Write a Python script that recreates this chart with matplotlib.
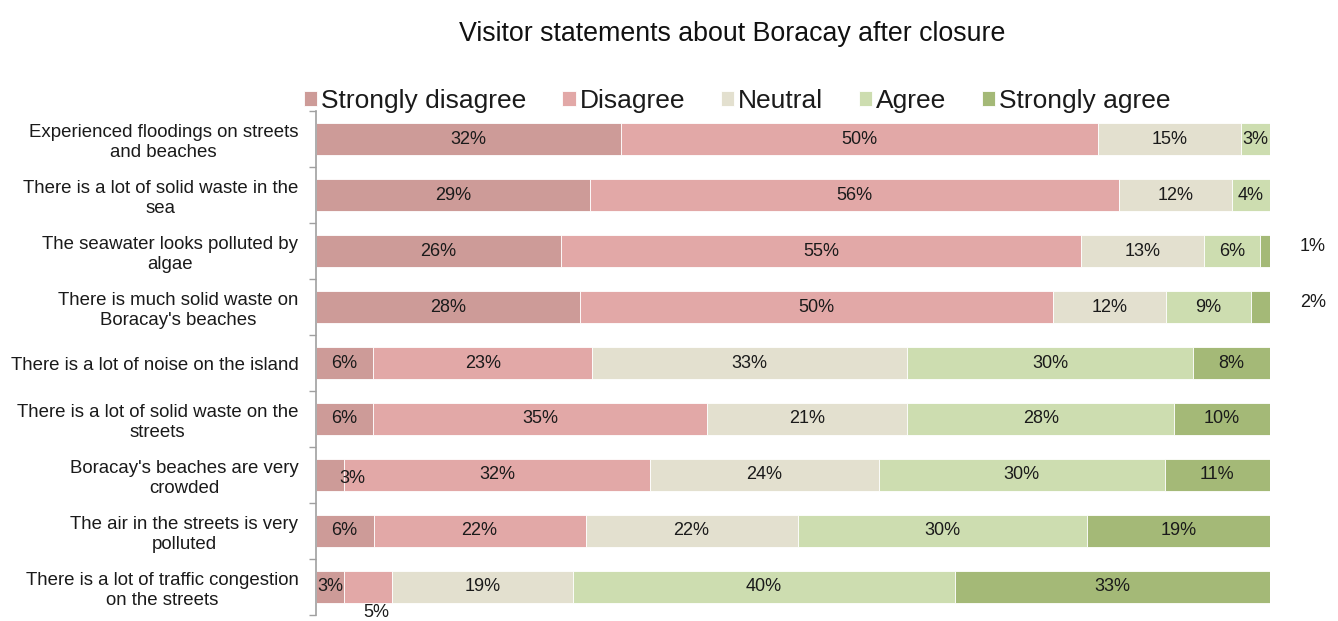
import numpy as np
import matplotlib.pyplot as plt
from matplotlib.ticker import FixedLocator

plt.rcParams['font.family'] = ['Liberation Sans', 'DejaVu Sans']

# Survey statements (top to bottom) and answer shares in percent
statements = [
    "Experienced floodings on streets\nand beaches",
    "There is a lot of solid waste in the\nsea",
    "The seawater looks polluted by\nalgae",
    "There is much solid waste on\nBoracay's beaches",
    "There is a lot of noise on the island",
    "There is a lot of solid waste on the\nstreets",
    "Boracay's beaches are very\ncrowded",
    "The air in the streets is very\npolluted",
    "There is a lot of traffic congestion\non the streets",
]
answers = ["Strongly disagree", "Disagree", "Neutral", "Agree", "Strongly agree"]

strongly_disagree = [32, 29, 26, 28, 6, 6, 3, 6, 3]
disagree = [50, 56, 55, 50, 23, 35, 32, 22, 5]
neutral = [15, 12, 13, 12, 33, 21, 24, 22, 19]
agree = [3, 4, 6, 9, 30, 28, 30, 30, 40]
strongly_agree = [0, 0, 1, 2, 8, 10, 11, 19, 33]

colors = ["#cd9b98", "#e2a8a7", "#e3e0cf", "#cdddb0", "#a4b977"]

data = np.array([strongly_disagree, disagree, neutral, agree, strongly_agree], dtype=float)
shares = data / data.sum(axis=0)  # 100% stacked, normalised per statement

fig = plt.figure(figsize=(13.38, 6.21), dpi=100)
ax = fig.add_axes([0.236, 0.0097, 0.713, 0.8115])

y = np.arange(len(statements))
left = np.zeros(len(statements))
bars = []
for k, name in enumerate(answers):
    b = ax.barh(y, shares[k], left=left, height=0.57, color=colors[k],
                edgecolor="white", linewidth=0.6, label=name)
    bars.append(b)
    for i in range(len(statements)):
        val = data[k, i]
        if val <= 0:
            continue
        cx = left[i] + shares[k, i] / 2
        cy = y[i]
        txt = f"{int(val)}%"
        # tiny segments get their labels pushed outside the bar
        if k == 4 and val <= 2:
            cx, cy = 1.045, y[i] - 0.08
        elif k == 1 and val <= 5:
            cx, cy = 0.063, y[i] + 0.46
        elif k == 0 and i == 6:
            cx, cy = 0.038, y[i] + 0.07
        ax.text(cx, cy, txt, ha="center", va="center", fontsize=13,
                color="#1a1a1a", clip_on=False)
    left = left + shares[k]

ax.set_xlim(0, 1)
ax.set_ylim(len(statements) - 0.5, -0.5)
ax.set_yticks(y)
ax.set_yticklabels(statements, fontsize=13.4, color="#1a1a1a", multialignment="center")
ax.yaxis.set_minor_locator(FixedLocator(np.arange(-0.5, len(statements), 1.0)))
ax.tick_params(axis="y", which="major", length=0, pad=12.5)
ax.tick_params(axis="y", which="minor", length=5, color="#a0a0a0", width=1)
ax.set_xticks([])
for side in ["top", "right", "bottom"]:
    ax.spines[side].set_visible(False)
ax.spines["left"].set_color("#a0a0a0")
ax.spines["left"].set_linewidth(1.2)

fig.text(0.547, 0.945, "Visitor statements about Boracay after closure",
         ha="center", va="center", fontsize=19.3, color="#111111")

fig.legend(handles=bars, labels=answers, loc="center", bbox_to_anchor=(0.551, 0.837),
           ncol=5, frameon=False, fontsize=19, handlelength=0.5, handleheight=0.5,
           handletextpad=0.15, columnspacing=1.35, labelcolor="#1a1a1a")

fig.savefig("out.png", dpi=100)
